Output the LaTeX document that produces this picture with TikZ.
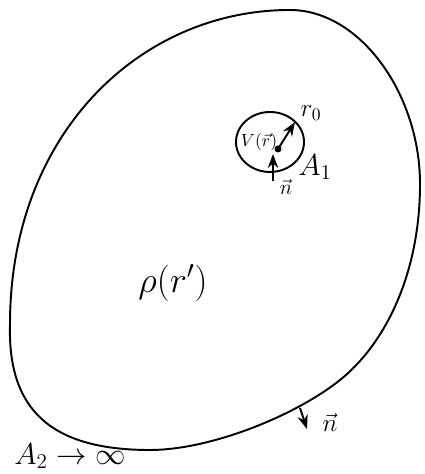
\documentclass[tikz,border=0pt]{standalone}
\usepackage{amsmath}
\usepackage{tikz}
\usetikzlibrary{arrows.meta}

\begin{document}
\begin{tikzpicture}[scale=1.0, line width=1.1pt]
  \useasboundingbox (0,0) rectangle (8.48,9.48);
  % Outer surface A_2
  \draw (5.80,9.28) .. controls (7.20,9.28) and (8.40,7.60) .. (8.40,5.80)
    .. controls (8.40,4.00) and (7.70,2.60) .. (6.80,1.88)
    .. controls (5.90,1.16) and (4.20,0.48) .. (3.00,0.48)
    .. controls (1.00,0.48) and (0.15,1.30) .. (0.20,3.00)
    .. controls (0.20,6.80) and (2.80,9.28) .. cycle;
  % Small sphere A_1 around the charge
  \draw (5.40,6.64) ellipse (0.68 and 0.60);
  \node (pot) at (5.18,6.64) {$V(\vec r)$};
  \coordinate (ctr) at (5.56,6.50);
  \coordinate (rim) at (5.90,7.04);
  \fill (ctr) circle (0.07);
  \draw[-{Stealth}] (ctr) -- (rim);
  \node (rzero) at (6.22,7.22) {\Large $r_0$};
  \node (aone) at (6.30,6.14) {\LARGE $A_1$};
  % Normal on A_1 (points inward)
  \coordinate (nin) at (5.46,5.86);
  \coordinate (nintip) at (5.46,6.40);
  \draw[-{Stealth}] (nin) -- (nintip);
  \node (none) at (5.72,5.74) {\large $\vec n$};
  % Charge density
  \node (rho) at (3.46,3.82) {\huge $\rho(r')$};
  % Normal on A_2 (points outward)
  \coordinate (nout) at (6.00,1.32);
  \coordinate (nouttip) at (6.14,0.90);
  \draw[-{Stealth}] (nout) -- (nouttip);
  \node (ntwo) at (6.60,1.04) {\Large $\vec n$};
  % A_2 label
  \node (atwo) at (1.40,0.36) {\LARGE $A_2 \rightarrow \infty$};
\end{tikzpicture}
\end{document}
